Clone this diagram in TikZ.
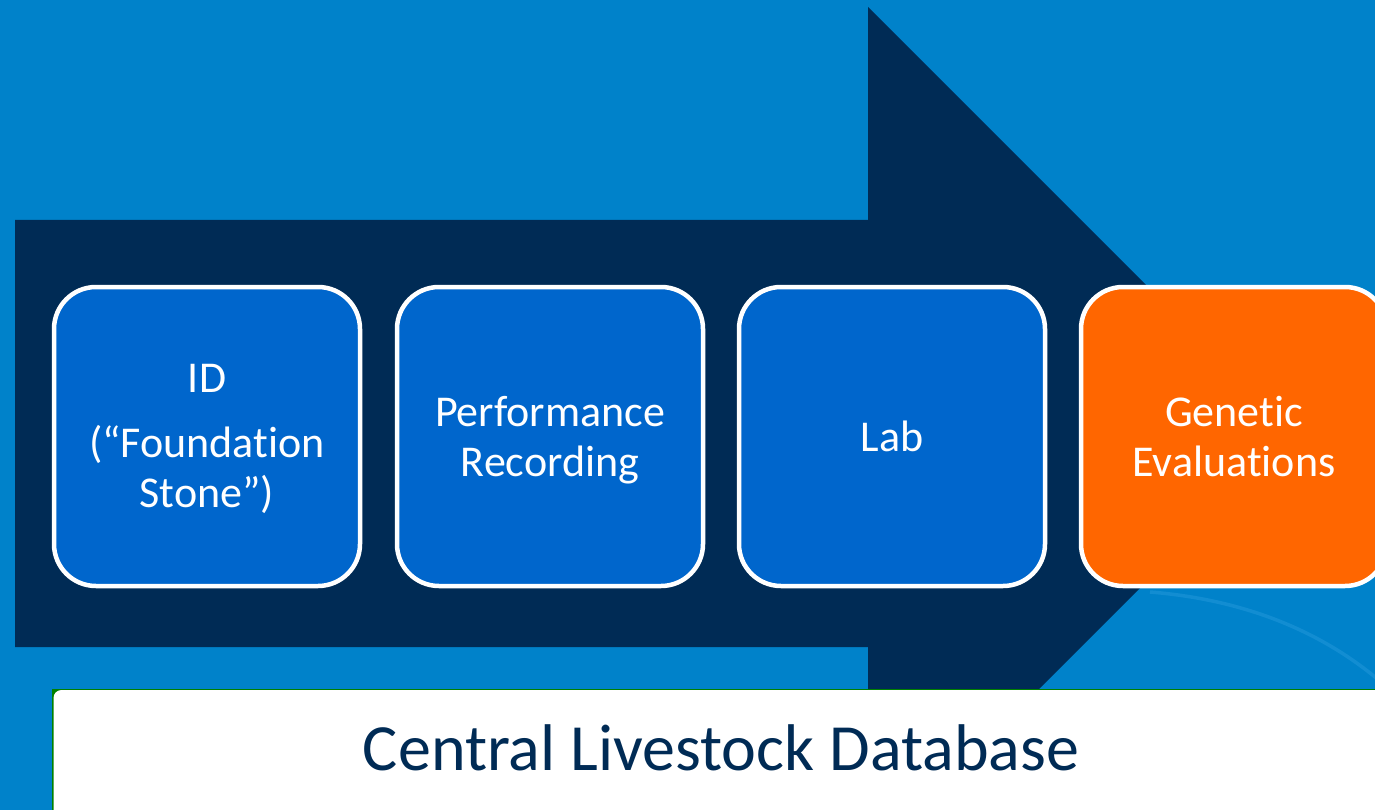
\documentclass[tikz,border=0pt]{standalone}
\usepackage{fontspec}
\setmainfont{Carlito}[Ligatures=NoCommon]
\definecolor{bgblue}{HTML}{0082CA}
\definecolor{navy}{HTML}{002B55}
\definecolor{boxblue}{HTML}{0066CC}
\definecolor{boxorange}{HTML}{FF6600}
\definecolor{dbgreen}{HTML}{008000}
\definecolor{swoosh}{HTML}{1A93D6}
\tikzset{
  stagebox/.style={draw=white, line width=4.5pt, rounded corners=42pt,
    minimum width=306pt, minimum height=299pt, inner sep=0pt},
  bluebox/.style={stagebox, fill=boxblue},
  orangebox/.style={stagebox, fill=boxorange},
  stagetext/.style={align=center, text=white, inner sep=0pt,
    font=\fontsize{44}{50}\selectfont},
}
\begin{document}
\begin{tikzpicture}[x=1pt, y=-1pt]
\useasboundingbox (0,0) rectangle (1375,810);
\clip (0,0) rectangle (1375,810);
% background
\fill[bgblue] (0,0) rectangle (1375,810);
\draw[swoosh, line width=3.5pt, opacity=0.7] (1150,592) .. controls (1250,600) and (1330,635) .. (1390,690);
% big arrow
\fill[navy] (15,220) -- (868,220) -- (868,7) -- (1294.5,433.5) -- (868,860) -- (868,647) -- (15,647) -- cycle;
% stage boxes
\node[bluebox] (id) at (207,436.5) {};
\node[bluebox] (perf) at (550,436.5) {};
\node[bluebox] (lab) at (892,436.5) {};
\node[orangebox] (gen) at (1234,436.5) {};
\node[stagetext, yshift=-2pt] (idtxt) at (id) {ID\\[15pt](“Foundation\\Stone”)};
\node[stagetext, yshift=-3.5pt] (perftxt) at (perf) {Performance\\Recording};
\node[stagetext] (labtxt) at (lab) {Lab};
\node[stagetext] (gentxt) at (gen) {Genetic\\Evaluations};
% database bar
\fill[dbgreen] (52,689) rectangle (1400,840);
\fill[white, rounded corners=8pt] (53.5,690) rectangle (1400,840);
\node[text=navy, font=\fontsize{66}{70}\selectfont, anchor=base, inner sep=0pt] (db) at (721,770) {Central Livestock Database};
\end{tikzpicture}
\end{document}
